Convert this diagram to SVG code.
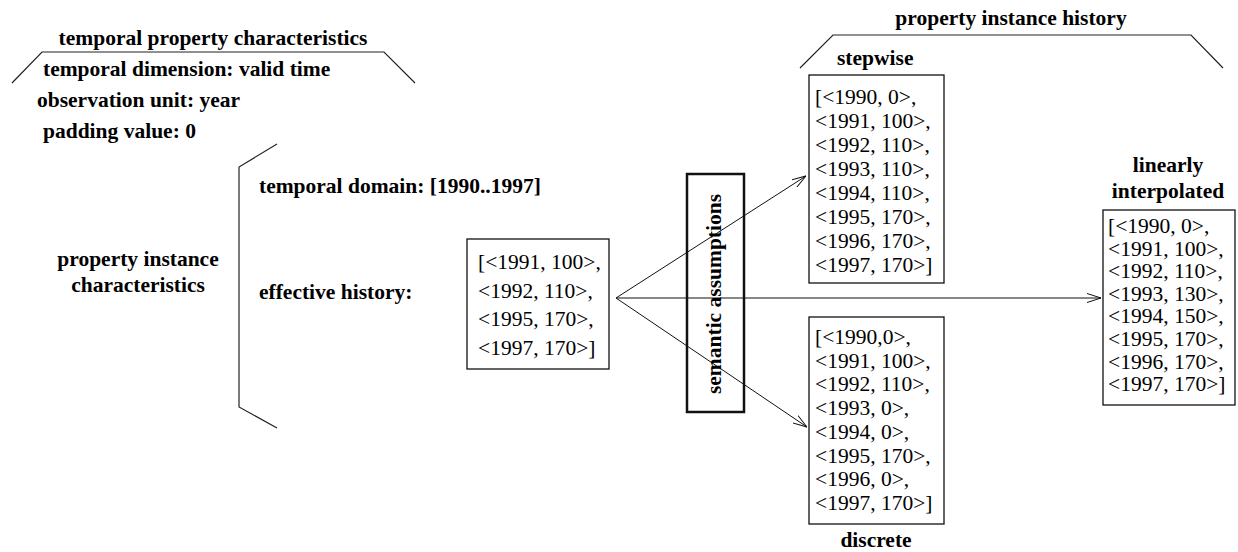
<svg xmlns="http://www.w3.org/2000/svg" width="1238" height="552" viewBox="0 0 1238 552">
<defs>
<style>
text{font-family:"Liberation Serif","Times New Roman",serif;font-size:21.5px;fill:#000}
.b{font-weight:bold}
.ln{fill:none;stroke:#222;stroke-width:1.2}
.box{fill:#fff;stroke:#111;stroke-width:1.3}
.con{fill:none;stroke:#111;stroke-width:1}
</style>
<marker id="arr" viewBox="0 0 14 10" refX="14" refY="5" markerWidth="14" markerHeight="10" markerUnits="userSpaceOnUse" orient="auto">
<path d="M0,0.5 L14,5 L0,9.5" fill="none" stroke="#111" stroke-width="1"/>
</marker>
</defs>
<rect width="1238" height="552" fill="#fff"/>

<g id="temporal-property">
<text class="b" x="213" y="45" text-anchor="middle">temporal property characteristics</text>
<polyline class="ln" points="12,83 42,52 384,52 415,83"/>
<text class="b" x="43" y="76">temporal dimension: valid time</text>
<text class="b" x="37" y="107">observation unit: year</text>
<text class="b" x="43" y="138">padding value: 0</text>
</g>

<g id="property-instance">
<text class="b" x="138" y="266" text-anchor="middle">property instance</text>
<text class="b" x="138" y="292" text-anchor="middle">characteristics</text>
<polyline class="ln" points="277,144 239,167 239,407 277,428"/>
<text class="b" x="259" y="193">temporal domain: [1990..1997]</text>
<text class="b" x="259" y="299">effective history:</text>
</g>

<g id="effective-history">
<rect class="box" x="467" y="239" width="142" height="130"/>
<text x="478" y="269">[&lt;1991, 100&gt;,</text>
<text x="478" y="297.5">&lt;1992, 110&gt;,</text>
<text x="478" y="326">&lt;1995, 170&gt;,</text>
<text x="478" y="354.5">&lt;1997, 170&gt;]</text>
</g>

<g id="connectors">
<line class="con" x1="616" y1="298" x2="806" y2="176" marker-end="url(#arr)"/>
<line class="con" x1="616" y1="298" x2="1101" y2="298" marker-end="url(#arr)"/>
<line class="con" x1="616" y1="298" x2="807" y2="427" marker-end="url(#arr)"/>
</g>

<g id="semantic-assumptions">
<rect x="687" y="174" width="57" height="238" fill="none" stroke="#111" stroke-width="2.5"/>
<text class="b" transform="translate(721,294) rotate(-90)" text-anchor="middle">semantic assumptions</text>
</g>

<g id="property-instance-history">
<text class="b" x="1011" y="25" text-anchor="middle">property instance history</text>
<polyline class="ln" points="800,68 833,35 1191,35 1223,68"/>
</g>

<g id="stepwise">
<text class="b" x="837" y="65">stepwise</text>
<rect class="box" x="809" y="75" width="135" height="208"/>
<text x="815" y="104">[&lt;1990, 0&gt;,</text>
<text x="815" y="128">&lt;1991, 100&gt;,</text>
<text x="815" y="152">&lt;1992, 110&gt;,</text>
<text x="815" y="176">&lt;1993, 110&gt;,</text>
<text x="815" y="200">&lt;1994, 110&gt;,</text>
<text x="815" y="224">&lt;1995, 170&gt;,</text>
<text x="815" y="248">&lt;1996, 170&gt;,</text>
<text x="815" y="272">&lt;1997, 170&gt;]</text>
</g>

<g id="linearly-interpolated">
<text class="b" x="1168" y="172" text-anchor="middle">linearly</text>
<text class="b" x="1168" y="198" text-anchor="middle">interpolated</text>
<rect class="box" x="1103" y="210" width="132" height="195"/>
<text x="1108" y="233">[&lt;1990, 0&gt;,</text>
<text x="1108" y="255.6">&lt;1991, 100&gt;,</text>
<text x="1108" y="278.2">&lt;1992, 110&gt;,</text>
<text x="1108" y="300.8">&lt;1993, 130&gt;,</text>
<text x="1108" y="323.4">&lt;1994, 150&gt;,</text>
<text x="1108" y="346">&lt;1995, 170&gt;,</text>
<text x="1108" y="368.6">&lt;1996, 170&gt;,</text>
<text x="1108" y="391.2">&lt;1997, 170&gt;]</text>
</g>

<g id="discrete">
<rect class="box" x="809" y="317" width="135" height="207"/>
<text x="815" y="344">[&lt;1990,0&gt;,</text>
<text x="815" y="367.7">&lt;1991, 100&gt;,</text>
<text x="815" y="391.4">&lt;1992, 110&gt;,</text>
<text x="815" y="415.1">&lt;1993, 0&gt;,</text>
<text x="815" y="438.8">&lt;1994, 0&gt;,</text>
<text x="815" y="462.5">&lt;1995, 170&gt;,</text>
<text x="815" y="486.2">&lt;1996, 0&gt;,</text>
<text x="815" y="510">&lt;1997, 170&gt;]</text>
<text class="b" x="876" y="547" text-anchor="middle">discrete</text>
</g>
</svg>
